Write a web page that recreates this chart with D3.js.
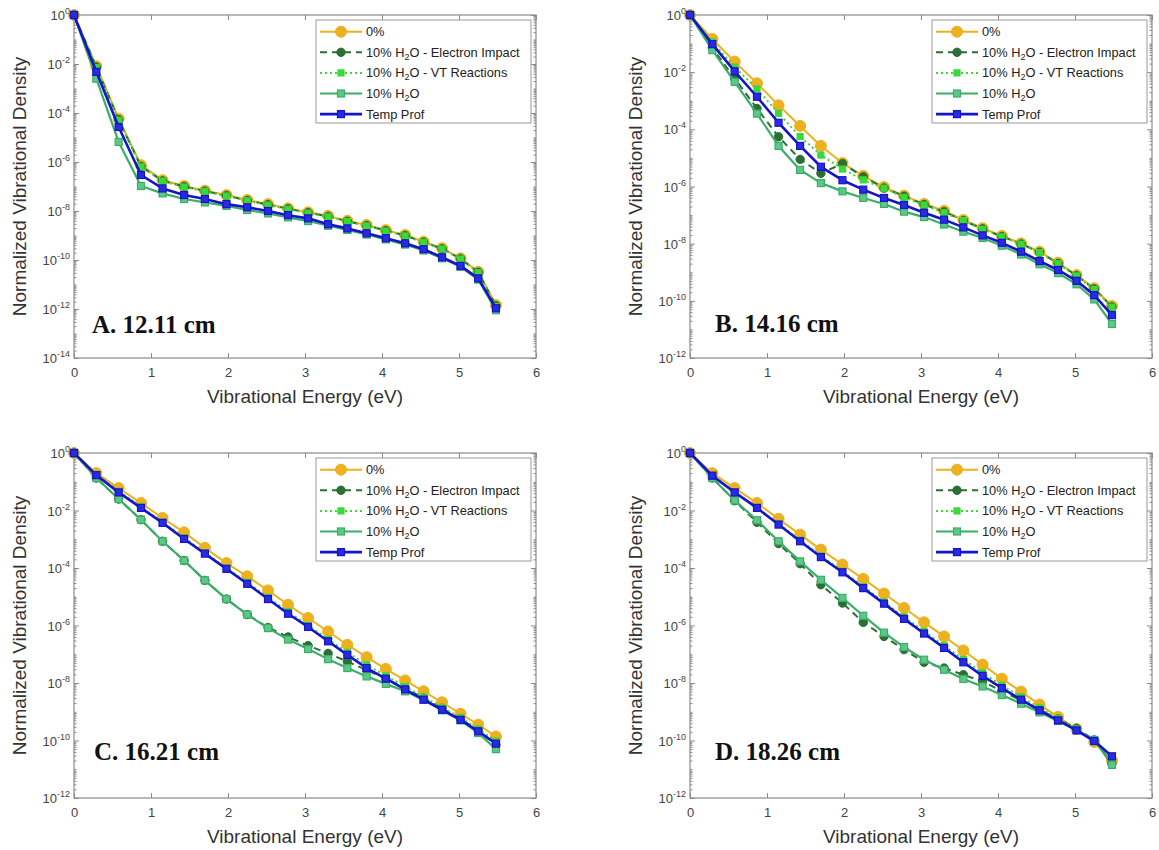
<!DOCTYPE html>
<html>
<head>
<meta charset="utf-8">
<script src="https://cdn.jsdelivr.net/npm/d3@7"></script>
<style>
body { margin: 0; background: #fff; }
text { font-family: "Liberation Sans", Arial, sans-serif; }
</style>
</head>
<body>
<div id="canvas"></div>
<script>
// vibrational level energies (eV), v = 0..21
const energy = [0, 0.29, 0.58, 0.87, 1.15, 1.43, 1.70, 1.98, 2.25, 2.52, 2.78,
    3.04, 3.30, 3.55, 3.80, 4.05, 4.30, 4.54, 4.78, 5.02, 5.25, 5.48];

// values are log10 of the normalized density
const aZero = [0, -2.09, -4.23, -6.13, -6.74, -6.98, -7.17, -7.35, -7.55, -7.72, -7.89, -8.05, -8.20, -8.40, -8.57, -8.78, -8.98, -9.25, -9.52, -9.93, -10.48, -11.84];
const aEI   = [0, -2.12, -4.27, -6.18, -6.77, -7.00, -7.19, -7.37, -7.57, -7.74, -7.91, -8.07, -8.22, -8.42, -8.59, -8.80, -9.00, -9.27, -9.54, -9.95, -10.50, -11.87];
const aVT   = [0, -2.15, -4.30, -6.20, -6.78, -7.02, -7.20, -7.39, -7.58, -7.76, -7.93, -8.09, -8.24, -8.43, -8.61, -8.82, -9.02, -9.28, -9.55, -9.96, -10.52, -11.90];
const aTen  = [0, -2.60, -5.18, -6.98, -7.28, -7.51, -7.65, -7.79, -7.96, -8.10, -8.26, -8.41, -8.60, -8.77, -8.96, -9.16, -9.37, -9.61, -9.93, -10.28, -10.80, -12.05];
const aTemp = [0, -2.32, -4.57, -6.53, -7.08, -7.35, -7.51, -7.72, -7.85, -8.00, -8.17, -8.30, -8.54, -8.71, -8.91, -9.11, -9.32, -9.56, -9.89, -10.24, -10.75, -11.97];

const bZero = [0, -0.84, -1.63, -2.39, -3.16, -3.88, -4.58, -5.18, -5.63, -6.02, -6.32, -6.61, -6.85, -7.17, -7.46, -7.73, -7.99, -8.28, -8.67, -9.10, -9.56, -10.18];
const bEI   = [0, -1.15, -2.22, -3.27, -4.26, -5.05, -5.54, -5.20, -5.66, -6.05, -6.34, -6.63, -6.88, -7.19, -7.48, -7.75, -8.01, -8.30, -8.69, -9.12, -9.58, -10.21];
const bVT   = [0, -0.94, -1.82, -2.59, -3.44, -4.25, -4.90, -5.39, -5.77, -6.06, -6.38, -6.65, -6.92, -7.19, -7.50, -7.76, -8.02, -8.31, -8.70, -9.13, -9.60, -10.22];
const bTen  = [0, -1.23, -2.34, -3.45, -4.58, -5.42, -5.88, -6.17, -6.40, -6.61, -6.88, -7.07, -7.33, -7.58, -7.80, -8.07, -8.38, -8.72, -9.03, -9.42, -9.95, -10.81];
const bTemp = [0, -1.02, -1.97, -2.86, -3.77, -4.58, -5.31, -5.78, -6.11, -6.40, -6.65, -6.92, -7.16, -7.43, -7.71, -7.97, -8.28, -8.61, -8.92, -9.30, -9.80, -10.50];

const cZero = [0, -0.70, -1.22, -1.74, -2.26, -2.76, -3.30, -3.83, -4.29, -4.78, -5.28, -5.74, -6.21, -6.67, -7.10, -7.51, -7.91, -8.29, -8.67, -9.07, -9.45, -9.86];
const cEI   = [0, -0.87, -1.60, -2.32, -3.07, -3.74, -4.43, -5.08, -5.62, -6.07, -6.40, -6.70, -6.97, -7.25, -7.55, -7.85, -8.18, -8.52, -8.88, -9.25, -9.65, -10.15];
const cVT   = [0, -0.75, -1.33, -1.87, -2.40, -2.95, -3.47, -4.00, -4.50, -5.02, -5.52, -6.00, -6.48, -6.93, -7.37, -7.75, -8.12, -8.49, -8.85, -9.20, -9.60, -10.02];
const cTen  = [0, -0.87, -1.60, -2.32, -3.07, -3.74, -4.43, -5.08, -5.62, -6.09, -6.49, -6.82, -7.17, -7.48, -7.77, -8.03, -8.29, -8.58, -8.95, -9.30, -9.74, -10.30];
const cTemp = [0, -0.77, -1.37, -1.91, -2.43, -2.99, -3.50, -4.03, -4.55, -5.08, -5.59, -6.05, -6.55, -7.02, -7.48, -7.85, -8.22, -8.58, -8.93, -9.28, -9.68, -10.11];

const dZero = [0, -0.70, -1.22, -1.74, -2.29, -2.84, -3.36, -3.88, -4.38, -4.89, -5.39, -5.89, -6.38, -6.87, -7.36, -7.85, -8.30, -8.75, -9.18, -9.60, -10.05, -10.70];
const dEI   = [0, -0.87, -1.66, -2.41, -3.15, -3.85, -4.58, -5.22, -5.89, -6.38, -6.84, -7.28, -7.48, -7.71, -7.95, -8.28, -8.60, -8.93, -9.25, -9.58, -9.98, -10.80];
const dVT   = [0, -0.77, -1.35, -1.89, -2.46, -3.03, -3.58, -4.11, -4.65, -5.18, -5.70, -6.20, -6.70, -7.18, -7.65, -8.08, -8.48, -8.86, -9.23, -9.60, -9.99, -10.60];
const dTen  = [0, -0.87, -1.65, -2.34, -3.07, -3.77, -4.41, -5.04, -5.66, -6.25, -6.75, -7.19, -7.54, -7.86, -8.12, -8.42, -8.72, -9.02, -9.32, -9.62, -9.98, -10.85];
const dTemp = [0, -0.79, -1.37, -1.91, -2.49, -3.07, -3.62, -4.15, -4.70, -5.24, -5.77, -6.28, -6.78, -7.28, -7.75, -8.18, -8.58, -8.95, -9.30, -9.65, -10.02, -10.55];

const panelTitles = ["A. 12.11 cm", "B. 14.16 cm", "C. 16.21 cm", "D. 18.26 cm"];
const panelSeries = [
    [aZero, aEI, aVT, aTen, aTemp],
    [bZero, bEI, bVT, bTen, bTemp],
    [cZero, cEI, cVT, cTen, cTemp],
    [dZero, dEI, dVT, dTen, dTemp]
];
const yMinExp = [-14, -12, -12, -12];
const xTicks = [0, 1, 2, 3, 4, 5, 6];
const legendLabels = [
    ["0%", "", ""],
    ["10% H", "2", "O - Electron Impact"],
    ["10% H", "2", "O - VT Reactions"],
    ["10% H", "2", "O"],
    ["Temp Prof", "", ""]
];

// layout + styles
const frames = [
    { x0: 74,  x1: 536,  y0: 15,  y1: 358, tx: 92,  ty: 333 },
    { x0: 690, x1: 1152, y0: 15,  y1: 358, tx: 715, ty: 332 },
    { x0: 74,  x1: 536,  y0: 453, y1: 798, tx: 94,  ty: 760 },
    { x0: 690, x1: 1152, y0: 453, y1: 798, tx: 715, ty: 760 }
];
const styles = [
    { color: "#EDB120", width: 2,   dash: null,  marker: "circle", size: 5.5, fill: "#EDB120" },
    { color: "#2D6E35", width: 2,   dash: "7,5", marker: "circle", size: 4.2, fill: "#2D6E35" },
    { color: "#3AD83A", width: 2,   dash: "2,3", marker: "square", size: 6,   fill: "#3AD83A" },
    { color: "#3AAE68", width: 2.2, dash: null,  marker: "square", size: 7,   fill: "#5FC786" },
    { color: "#1414C8", width: 2.6, dash: null,  marker: "square", size: 7,   fill: "#2A2AE0" }
];
const axisColor = "#8a8a8a";
const labelColor = "#444";

const svg = d3.select("#canvas").append("svg")
    .attr("width", 1159)
    .attr("height", 850);

function drawMarker(g, s, cx, cy) {
    if (s.marker === "circle") {
        g.append("circle")
            .attr("cx", cx).attr("cy", cy).attr("r", s.size)
            .attr("fill", s.fill).attr("stroke", s.color).attr("stroke-width", 1);
    } else {
        g.append("rect")
            .attr("x", cx - s.size / 2).attr("y", cy - s.size / 2)
            .attr("width", s.size).attr("height", s.size)
            .attr("fill", s.fill).attr("stroke", s.color).attr("stroke-width", 1.2);
    }
}

panelSeries.forEach((series, p) => {
    const f = frames[p];
    const g = svg.append("g");

    const x = d3.scaleLinear().domain([0, 6]).range([f.x0, f.x1]);
    const y = d3.scaleLog().domain([Math.pow(10, yMinExp[p]), 1]).range([f.y1, f.y0]);

    const majorExp = d3.range(0, yMinExp[p] - 1, -2);
    const minorVals = [];
    for (let e = yMinExp[p]; e < 0; e++) {
        for (let m = 2; m <= 10; m++) {
            const v = m * Math.pow(10, e);
            if (m === 10 && (e + 1) % 2 === 0) continue;
            minorVals.push(v);
        }
    }

    // frame
    g.append("rect")
        .attr("x", f.x0).attr("y", f.y0)
        .attr("width", f.x1 - f.x0).attr("height", f.y1 - f.y0)
        .attr("fill", "none").attr("stroke", axisColor).attr("stroke-width", 1.2);

    // x axes (bottom with labels, top ticks only)
    const xb = g.append("g").attr("transform", `translate(0,${f.y1})`)
        .call(d3.axisBottom(x).tickValues(xTicks).tickFormat(d3.format("d"))
            .tickSizeInner(-5).tickSizeOuter(0).tickPadding(10));
    g.append("g").attr("transform", `translate(0,${f.y0})`)
        .call(d3.axisTop(x).tickValues(xTicks).tickSizeInner(-5).tickSizeOuter(0).tickFormat(""));

    // y axes
    g.append("g").attr("transform", `translate(${f.x0},0)`)
        .call(d3.axisLeft(y).tickValues(majorExp.map(e => Math.pow(10, e)))
            .tickSizeInner(-5).tickSizeOuter(0).tickFormat(""));
    g.append("g").attr("transform", `translate(${f.x1},0)`)
        .call(d3.axisRight(y).tickValues(majorExp.map(e => Math.pow(10, e)))
            .tickSizeInner(-5).tickSizeOuter(0).tickFormat(""));
    g.append("g").attr("transform", `translate(${f.x0},0)`)
        .call(d3.axisLeft(y).tickValues(minorVals).tickSizeInner(-2.5).tickSizeOuter(0).tickFormat(""));
    g.append("g").attr("transform", `translate(${f.x1},0)`)
        .call(d3.axisRight(y).tickValues(minorVals).tickSizeInner(-2.5).tickSizeOuter(0).tickFormat(""));

    g.selectAll(".domain").remove();
    g.selectAll(".tick line").attr("stroke", axisColor);

    xb.selectAll(".tick text")
        .attr("fill", labelColor)
        .style("font-size", "13px");

    // y tick labels as 10^n
    majorExp.forEach(e => {
        const t = g.append("text")
            .attr("x", f.x0 - 4)
            .attr("y", y(Math.pow(10, e)) + 5)
            .attr("text-anchor", "end")
            .attr("fill", labelColor)
            .style("font-size", "13px");
        t.append("tspan").text("10");
        t.append("tspan").attr("dy", -6).style("font-size", "9px").text(e === 0 ? "0" : "-" + Math.abs(e));
    });

    // axis titles
    g.append("text")
        .attr("x", (f.x0 + f.x1) / 2).attr("y", f.y1 + 45)
        .attr("text-anchor", "middle")
        .attr("fill", "#333")
        .style("font-size", "19px")
        .text("Vibrational Energy (eV)");
    g.append("text")
        .attr("transform", `translate(${f.x0 - 48},${(f.y0 + f.y1) / 2}) rotate(-90)`)
        .attr("text-anchor", "middle")
        .attr("fill", "#333")
        .style("font-size", "19px")
        .text("Normalized Vibrational Density");

    // series
    const line = d3.line()
        .x((d, i) => x(energy[i]))
        .y(d => y(Math.pow(10, d)));

    series.forEach((vals, k) => {
        const s = styles[k];
        g.append("path")
            .datum(vals)
            .attr("d", line)
            .attr("fill", "none")
            .attr("stroke", s.color)
            .attr("stroke-width", s.width)
            .attr("stroke-dasharray", s.dash)
            .attr("stroke-linejoin", "round");
        const mg = g.append("g");
        vals.forEach((d, i) => drawMarker(mg, s, x(energy[i]), y(Math.pow(10, d))));
    });

    // panel title
    g.append("text")
        .attr("x", f.tx).attr("y", f.ty)
        .attr("fill", "#111")
        .style("font-family", "'Liberation Serif', 'Times New Roman', serif")
        .style("font-weight", "bold")
        .style("font-size", "25px")
        .text(panelTitles[p]);

    // legend
    const lx = f.x0 + 242, ly = f.y0 + 5;
    const lg = g.append("g");
    lg.append("rect")
        .attr("x", lx).attr("y", ly)
        .attr("width", 215).attr("height", 103)
        .attr("fill", "#fff").attr("stroke", "#999").attr("stroke-width", 1);
    legendLabels.forEach((lab, k) => {
        const s = styles[k];
        const ry = ly + 11.7 + k * 20.6;
        lg.append("line")
            .attr("x1", lx + 4).attr("x2", lx + 46)
            .attr("y1", ry).attr("y2", ry)
            .attr("stroke", s.color).attr("stroke-width", s.width)
            .attr("stroke-dasharray", s.dash);
        drawMarker(lg, s, lx + 25, ry);
        const t = lg.append("text")
            .attr("x", lx + 50).attr("y", ry + 4.5)
            .attr("fill", "#222")
            .style("font-size", "12.8px");
        t.append("tspan").text(lab[0]);
        if (lab[1]) {
            t.append("tspan").attr("dy", 3).style("font-size", "9px").text(lab[1]);
            t.append("tspan").attr("dy", -3).text(lab[2]);
        }
    });
});
</script>
</body>
</html>
